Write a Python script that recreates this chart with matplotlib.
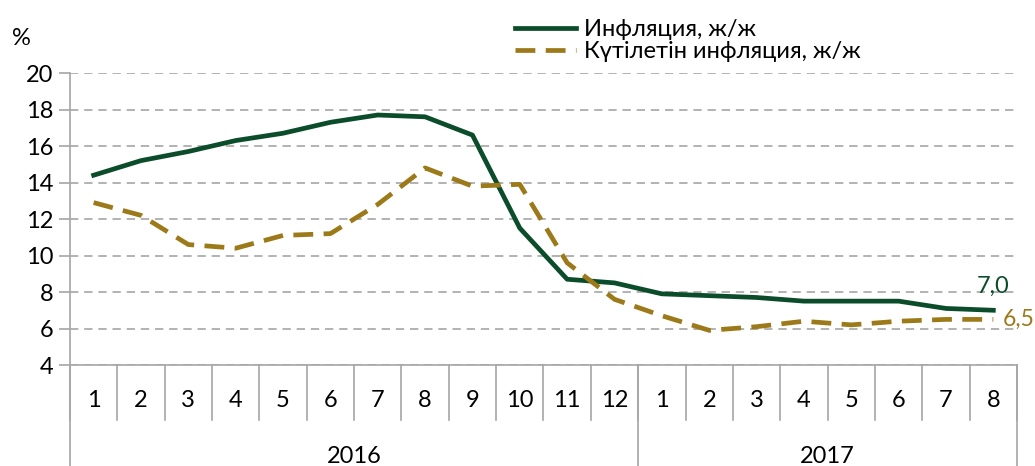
import numpy as np
import matplotlib
matplotlib.use('Agg')
import matplotlib.pyplot as plt
import matplotlib.transforms as mtransforms

plt.rcParams['font.family'] = ['Lato', 'DejaVu Sans']

months = ['1', '2', '3', '4', '5', '6', '7', '8', '9', '10', '11', '12',
          '1', '2', '3', '4', '5', '6', '7', '8']
years = ['2016', '2017']
year_len = [12, 8]
inflation = [14.4, 15.2, 15.7, 16.3, 16.7, 17.3, 17.7, 17.6, 16.6, 11.5, 8.7, 8.5,
             7.9, 7.8, 7.7, 7.5, 7.5, 7.5, 7.1, 7.0]
expected = [12.9, 12.2, 10.6, 10.4, 11.1, 11.2, 12.8, 14.8, 13.8, 13.9, 9.6, 7.6,
            6.7, 5.9, 6.1, 6.4, 6.2, 6.4, 6.5, 6.5]

green = '#0b4d2a'
gold = '#9c7a1a'
grey = '#a6a6a6'

fig = plt.figure(figsize=(10.35, 4.66), dpi=100)
ax = fig.add_axes([0.0676, 0.2167, 0.915, 0.6266])

x = np.arange(len(months))
ax.plot(x, inflation, color=green, lw=3.4, label='Инфляция, ж/ж', solid_joinstyle='round')
ax.plot(x, expected, color=gold, lw=3.4, ls=(0, (4.2, 2.2)), label='Күтілетін инфляция, ж/ж')

ax.set_xlim(-0.5, len(months) - 0.5)
ax.set_ylim(4, 20)
ax.set_yticks(range(4, 21, 2))
ax.yaxis.grid(True, color=grey, ls=(0, (5, 3.5)), lw=1.2)
ax.set_axisbelow(True)
for s in ['top', 'right', 'bottom']:
    ax.spines[s].set_visible(False)
ax.spines['left'].set_color(grey)
ax.spines['left'].set_linewidth(1.2)
ax.tick_params(axis='y', length=8, color=grey, width=1.2, labelsize=17, pad=4)
ax.set_xticks([])

# month labels and separators below the axis
trans = mtransforms.blended_transform_factory(ax.transData, ax.transAxes)
for i, m in enumerate(months):
    ax.text(i, -0.12, m, transform=trans, ha='center', va='center', fontsize=17)
for i in range(len(months) + 1):
    ax.plot([i - 0.5, i - 0.5], [0, -0.19], transform=trans, color=grey, lw=1.2, clip_on=False)
ax.plot([-0.5, len(months) - 0.5], [0, 0], transform=trans, color=grey, lw=1.2, clip_on=False)

start = 0
for yr, n in zip(years, year_len):
    ax.text(start + n / 2 - 0.5, -0.315, yr, transform=trans, ha='center', va='center', fontsize=17)
    ax.plot([start - 0.5, start - 0.5], [0, -0.4], transform=trans, color=grey, lw=1.2, clip_on=False)
    start += n
ax.plot([start - 0.5, start - 0.5], [0, -0.4], transform=trans, color=grey, lw=1.2, clip_on=False)

ax.text(x[-1], inflation[-1] + 0.75, '7,0', color=green, fontsize=17, ha='center', va='bottom')
ax.text(x[-1] + 0.2, expected[-1], '6,5', color=gold, fontsize=16.5, ha='left', va='center')

fig.text(0.012, 0.918, '%', fontsize=17, ha='left', va='center')

ax.legend(loc='lower left', bbox_to_anchor=(0.46, 1.005), frameon=False, fontsize=17,
          handlelength=2.6, handletextpad=0.3, labelspacing=0.05, borderaxespad=0)

fig.savefig('out.png', dpi=100)
